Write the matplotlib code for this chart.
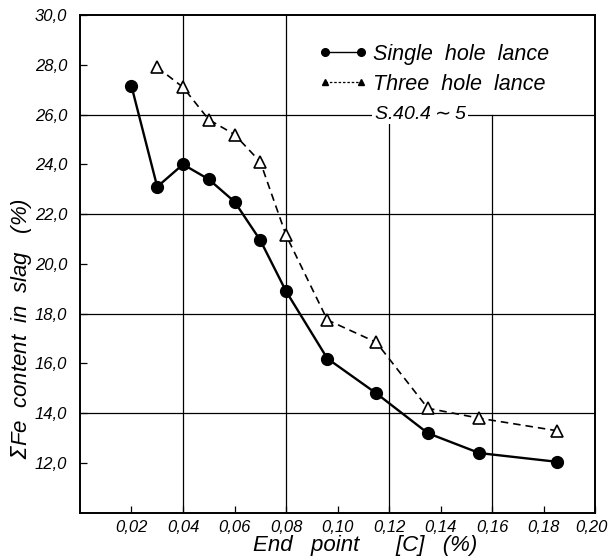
import numpy as np
import matplotlib
matplotlib.use('Agg')
import matplotlib.pyplot as plt
import matplotlib.transforms as mtransforms
from matplotlib.lines import Line2D

# end point carbon (%) and total Fe in slag (%)
single_x = [0.02, 0.03, 0.04, 0.05, 0.06, 0.07, 0.08, 0.096, 0.115, 0.135, 0.155, 0.185]
single_y = [27.15, 23.1, 24.0, 23.4, 22.5, 20.95, 18.9, 16.2, 14.8, 13.2, 12.4, 12.05]

three_x = [0.03, 0.04, 0.05, 0.06, 0.07, 0.08, 0.096, 0.115, 0.135, 0.155, 0.185]
three_y = [27.9, 27.1, 25.8, 25.2, 24.1, 21.15, 17.75, 16.85, 14.2, 13.8, 13.3]

x_ticks = [0.02, 0.04, 0.06, 0.08, 0.10, 0.12, 0.14, 0.16, 0.18, 0.20]
y_ticks = [12, 14, 16, 18, 20, 22, 24, 26, 28, 30]
x_grid = [0.04, 0.08, 0.12, 0.16]
y_grid = [14, 18, 22, 26]
note = 'S.40.4$\\sim$5'

plt.rcParams['font.family'] = ['Liberation Sans', 'DejaVu Sans']
plt.rcParams['font.style'] = 'italic'
plt.rcParams['mathtext.fontset'] = 'dejavusans'

fig = plt.figure(figsize=(6.1, 5.58), dpi=100)
ax = fig.add_axes([0.131, 0.081, 0.845, 0.892])
ax.set_xlim(0, 0.20)
ax.set_ylim(10, 30)

# grid (upper right part is left open for the legend)
for gx in x_grid:
    top = 1.0 if gx < 0.1 else (26 - 10) / 20
    ax.axvline(gx, ymax=top, color='black', lw=0.9, zorder=1)
for gy in y_grid:
    ax.axhline(gy, color='black', lw=0.9, zorder=1)

ax.plot(single_x, single_y, '-', color='black', lw=1.7, marker='o', ms=8.5,
        mfc='black', mec='black', zorder=3)
ax.plot(three_x, three_y, '--', color='black', lw=1.2, dashes=(4.5, 3), marker='^',
        ms=9, mfc='white', mec='black', mew=1.2, zorder=3)

ax.set_xticks(x_ticks)
ax.set_xticklabels([('%.2f' % v).replace('.', ',') for v in x_ticks])
ax.set_yticks(y_ticks)
ax.set_yticklabels([('%.1f' % v).replace('.', ',') for v in y_ticks])
ax.tick_params(direction='in', length=5, width=0.9, labelsize=12)
ax.tick_params(axis='y', pad=9)
ax.tick_params(axis='x', pad=5)
for s in ax.spines.values():
    s.set_linewidth(1.4)

# last x label nudged left so it stays inside the figure
last = ax.get_xticklabels()[-1]
last.set_transform(last.get_transform() +
                   mtransforms.ScaledTranslation(-4 / 100, 0, fig.dpi_scale_trans))

ax.set_xlabel('End   point      [C]   (%)', fontsize=16)
ax.xaxis.set_label_coords(0.553, -0.045)
ax.set_ylabel('$\\Sigma$Fe  content  in  slag   (%)', fontsize=16)
ax.yaxis.set_label_coords(-0.09, 0.37)

handles = [
    Line2D([], [], color='black', lw=1.0, marker='o', ms=5.5, mfc='black'),
    Line2D([], [], color='black', lw=0.9, ls='--', dashes=(2, 1.5), marker='^', ms=4.5,
           mfc='black'),
]
leg = ax.legend(handles, ['Single  hole  lance', 'Three  hole  lance'],
                loc='upper left', bbox_to_anchor=(0.425, 0.981), frameon=False,
                fontsize=15.5, numpoints=2, handlelength=2.3, handletextpad=0.25,
                labelspacing=0.4)

ax.text(0.132, 26, note, fontsize=14, ha='center', va='center', zorder=4,
        bbox=dict(facecolor='white', edgecolor='none', pad=1))

fig.savefig('out.png', dpi=100)
